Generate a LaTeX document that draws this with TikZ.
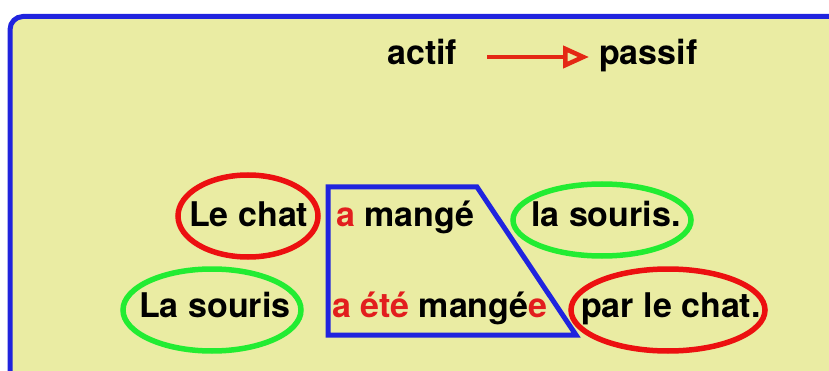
\documentclass[tikz,border=0pt]{standalone}
\usepackage{fontspec}
\setmainfont{TeX Gyre Heros}
\usetikzlibrary{arrows.meta}
\definecolor{bg}{RGB}{234,236,163}
\definecolor{framebl}{RGB}{32,36,222}
\definecolor{redln}{RGB}{236,16,16}
\definecolor{redtxt}{RGB}{226,30,30}
\definecolor{greenln}{RGB}{34,236,50}
\definecolor{arrred}{RGB}{228,40,20}
\begin{document}
\begin{tikzpicture}[x=1pt,y=-1pt,
  txt/.style={font=\bfseries\fontsize{34}{40}\selectfont, inner sep=0pt, anchor=base west, text=black},
  redring/.style={draw=redln, line width=5.5pt},
  greenring/.style={draw=greenln, line width=5.5pt},
  trap/.style={draw=framebl, line width=5pt, line join=miter},
  arr/.style={draw=arrred, line width=4.5pt, -{Triangle[open, length=26pt, width=22pt]}}]
\useasboundingbox (0,0) rectangle (829,371);
\clip (0,0) rectangle (829,371);
\draw[fill=bg, draw=framebl, line width=5pt, rounded corners=13pt] (10,16.5) rectangle (845,390);
% title
\node[txt] (actif) at (387,65) {actif};
\node[txt] (passif) at (599,65) {passif};
\coordinate (a1) at (487,57);
\coordinate (a2) at (589,57);
\draw[arr] (a1) -- (a2);
% rings
\draw[redring] (248,216) ellipse [x radius=70, y radius=41];
\draw[greenring] (602,220) ellipse [x radius=89, y radius=36];
\draw[greenring] (212,310) ellipse [x radius=89, y radius=41];
\draw[redring] (668,310) ellipse [x radius=97, y radius=41];
% trapezoid
\draw[trap] (328,187) -- (477,187) -- (576,335) -- (328,335) -- cycle;
% sentences
\node[txt] (lechat) at (189,226) {Le chat};
\node[txt] (amange) at (336,226) {\textcolor{redtxt}{a} mangé};
\node[txt] (lasouris1) at (531,226) {la souris.};
\node[txt] (lasouris2) at (139,317) {La souris};
\node[txt] (aetemangee) at (332,317) {\textcolor{redtxt}{a été} mangé\textcolor{redtxt}{e}};
\node[txt] (parlechat) at (581,317) {par le chat.};
\end{tikzpicture}
\end{document}
